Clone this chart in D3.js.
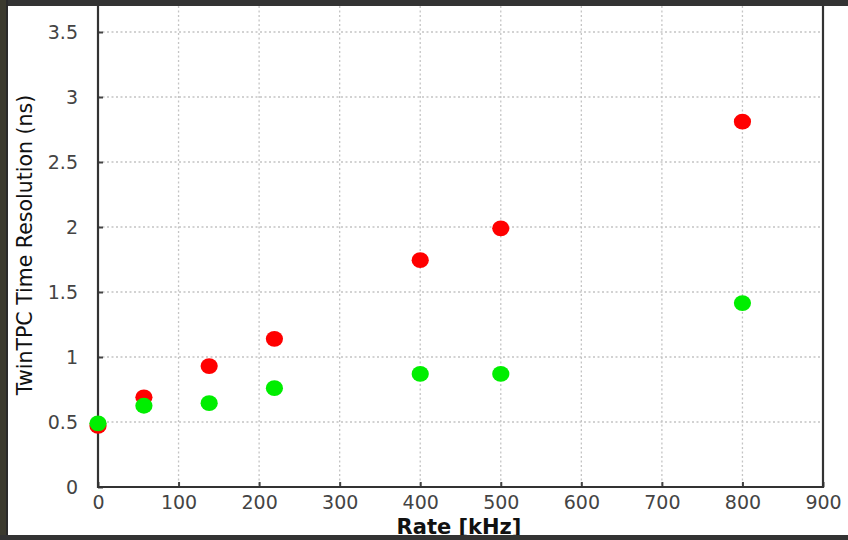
<!DOCTYPE html>
<html>
<head>
<meta charset="utf-8">
<script src="https://cdn.jsdelivr.net/npm/d3@7/dist/d3.min.js"></script>
<style>
  html, body { margin: 0; padding: 0; background: #ffffff; }
  svg { display: block; }
</style>
</head>
<body>
<script>
// Time resolution vs. rate for two settings
const rates = [0, 57, 138, 219, 400, 500, 800];
const resRed = [0.47, 0.69, 0.93, 1.14, 1.745, 1.99, 2.81];
const resGreen = [0.49, 0.625, 0.645, 0.76, 0.87, 0.87, 1.415];
const xTicks = [0, 100, 200, 300, 400, 500, 600, 700, 800, 900];
const yTicks = [0, 0.5, 1, 1.5, 2, 2.5, 3, 3.5];

const W = 848, H = 540;
const plotL = 98, plotR = 823, plotT = 6, plotB = 487;

const svg = d3.select("body").append("svg").attr("width", W).attr("height", H);
svg.append("rect").attr("width", W).attr("height", H).attr("fill", "#ffffff");

const x = d3.scaleLinear().domain([0, 900]).range([plotL, plotR]);
const y = d3.scaleLinear().domain([0, 3.7]).range([plotB, plotT]);

// dotted grid
const grid = svg.append("g").attr("stroke", "#c4c4c4").attr("stroke-width", 1.3)
  .attr("stroke-dasharray", "2,2.5");
grid.selectAll("line.v").data(xTicks.filter(d => d > 0 && d < 900)).join("line")
  .attr("x1", d => x(d)).attr("x2", d => x(d)).attr("y1", plotT).attr("y2", plotB);
grid.selectAll("line.h").data(yTicks.filter(d => d > 0)).join("line")
  .attr("x1", plotL).attr("x2", plotR).attr("y1", d => y(d)).attr("y2", d => y(d));

// axes
const xAxis = d3.axisBottom(x).tickValues(xTicks).tickSizeInner(-5).tickSizeOuter(0).tickPadding(9);
const yAxis = d3.axisLeft(y).tickValues(yTicks).tickFormat(d3.format("")).tickSizeInner(-5).tickSizeOuter(0).tickPadding(20);

const gx = svg.append("g").attr("transform", `translate(0,${plotB})`).call(xAxis);
const gy = svg.append("g").attr("transform", `translate(${plotL},0)`).call(yAxis);
[gx, gy].forEach(g => {
  g.select(".domain").remove();
  g.selectAll(".tick line").attr("stroke", "#444").attr("stroke-width", 2);
  g.selectAll(".tick text").attr("fill", "#444")
    .style("font-family", "DejaVu Sans, sans-serif").style("font-size", "19px");
});
gx.selectAll(".tick text").attr("dy", "0.71em");
gy.selectAll(".tick text").attr("dy", "0.36em");

// frame
const frame = svg.append("g").attr("stroke", "#333").attr("stroke-width", 2.2).attr("fill", "none");
frame.append("line").attr("x1", plotL).attr("x2", plotL).attr("y1", plotT).attr("y2", plotB + 1);
frame.append("line").attr("x1", plotL - 1).attr("x2", plotR + 1).attr("y1", plotB).attr("y2", plotB);
frame.append("line").attr("x1", plotR).attr("x2", plotR).attr("y1", plotT).attr("y2", plotB + 1);

// markers
const pts = svg.append("g");
pts.selectAll("ellipse.r").data(rates.map((r, i) => [r, resRed[i]])).join("ellipse")
  .attr("class", "r")
  .attr("cx", d => x(d[0])).attr("cy", d => y(d[1])).attr("rx", 8.6).attr("ry", 7.9)
  .attr("fill", "#ff0000");
pts.selectAll("ellipse.g").data(rates.map((r, i) => [r, resGreen[i]])).join("ellipse")
  .attr("class", "g")
  .attr("cx", d => x(d[0])).attr("cy", d => y(d[1])).attr("rx", 8.6).attr("ry", 7.9)
  .attr("fill", "#00ee00");

// axis titles
svg.append("text").attr("x", 459).attr("y", 534).attr("text-anchor", "middle")
  .style("font-family", "DejaVu Sans, sans-serif").style("font-size", "21px").style("font-weight", "bold")
  .attr("fill", "#111").text("Rate [kHz]");
svg.append("text").attr("transform", "translate(32,245) rotate(-90)").attr("text-anchor", "middle")
  .style("font-family", "DejaVu Sans, sans-serif").style("font-size", "20.5px")
  .attr("fill", "#111").text("TwinTPC Time Resolution (ns)");

// window border
svg.append("rect").attr("x", 0).attr("y", 0).attr("width", W).attr("height", 6).attr("fill", "#333333");
svg.append("rect").attr("x", 0).attr("y", 0).attr("width", 8).attr("height", H).attr("fill", "#3b3a2e");
svg.append("rect").attr("x", 6).attr("y", 0).attr("width", 2).attr("height", H).attr("fill", "#2a2a2a");
svg.append("rect").attr("x", 0).attr("y", 535).attr("width", W).attr("height", 5).attr("fill", "#333333");
</script>
</body>
</html>
